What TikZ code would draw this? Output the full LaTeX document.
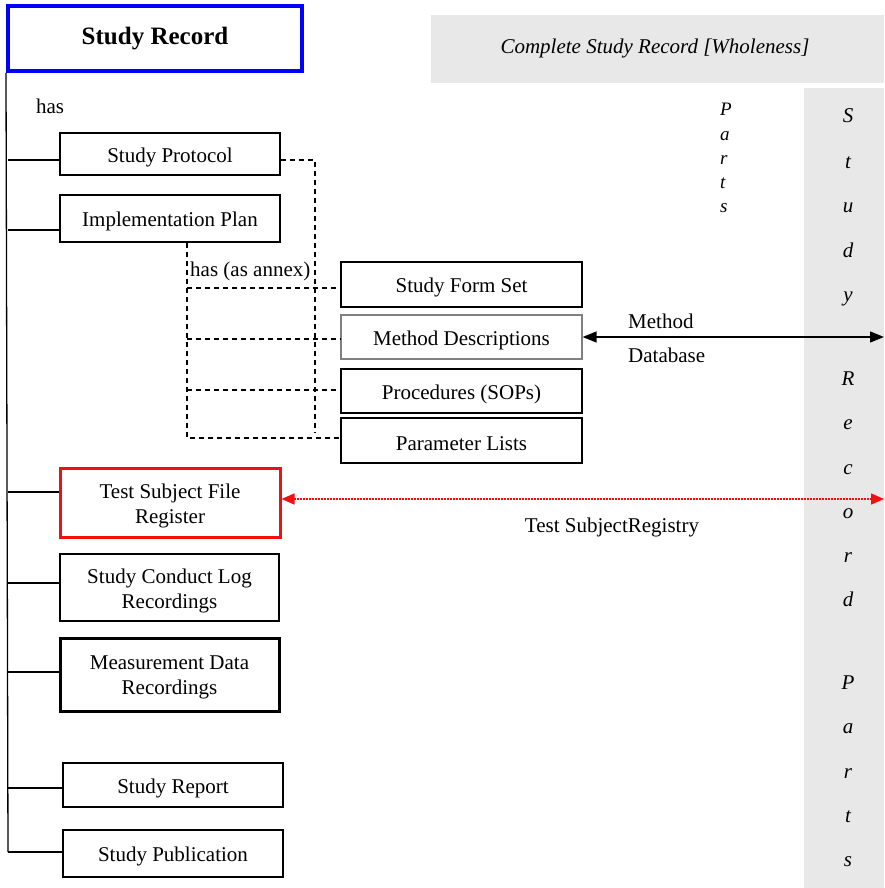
\documentclass[tikz,border=0pt]{standalone}
\usepackage{fontspec}
\setmainfont{Liberation Serif}
\usetikzlibrary{arrows.meta}
\definecolor{panelgrey}{HTML}{E8E8E8}
\definecolor{rulered}{HTML}{F01010}
\begin{document}
\begin{tikzpicture}[x=1pt,y=-1pt,
  txt/.style={font=\fontsize{21}{25}\selectfont, inner sep=0pt},
  boxtext/.style={txt, align=center, yshift=-3pt},
  partbox/.style={draw, line width=1.5pt, inner sep=0pt, minimum width=#1},
  partbox/.default=220pt,
  lnk/.style={line width=1.3pt},
  annex/.style={line width=1.2pt, dash pattern=on 5pt off 4pt},
  vletter/.style={font=\fontsize{21}{25}\selectfont\itshape, inner sep=0pt, anchor=base},
  pletter/.style={font=\fontsize{19}{22}\selectfont\itshape, inner sep=0pt, anchor=base west}]
\useasboundingbox (0,0) rectangle (884,888);

% grey panels
\fill[panelgrey] (431,15) rectangle (884,83);
\fill[panelgrey] (804,88) rectangle (884,888);
\node[font=\fontsize{21}{25}\selectfont\itshape, inner sep=0pt] (whole) at (655,48) {Complete Study Record [Wholeness]};

% vertical caption "Study Record Parts"
\foreach \ch/\yy [count=\i] in {S/123,t/168,u/212,d/257,y/301,R/385,e/429,c/474,o/518,r/562,d/606,P/689,a/733,r/778,t/822,s/866}
  \node[vletter] (vl\i) at (848,\yy) {\ch};
% small "Parts"
\foreach \ch/\yy [count=\i] in {P/116,a/140,r/164,t/188,s/212}
  \node[pletter] (pl\i) at (720,\yy) {\ch};

% root
\node[draw=blue, line width=4pt, minimum width=294pt, minimum height=65pt, inner sep=0pt,
      font=\fontsize{25}{30}\selectfont\bfseries] (sr) at (155,38.5) {Study Record};
\node[txt] (has) at (50,106) {has};

% parts
\node[partbox, minimum height=42pt, label={[boxtext]center:Study Protocol}] (sp) at (170,154) {};
\node[partbox, minimum height=47pt, label={[boxtext]center:Implementation Plan}] (ip) at (170,218.5) {};
\node[partbox=241pt, minimum height=45pt, label={[boxtext]center:Study Form Set}] (sfs) at (461.5,284.5) {};
\node[partbox=241pt, minimum height=44pt, draw=gray, line width=1.2pt, label={[boxtext]center:Method Descriptions}] (md) at (461.5,337) {};
\node[partbox=241pt, minimum height=44pt, label={[boxtext]center:Procedures (SOPs)}] (sop) at (461.5,391) {};
\node[partbox=241pt, minimum height=45pt, label={[boxtext]center:Parameter Lists}] (pl) at (461.5,440.5) {};
\node[partbox, minimum height=69pt, draw=rulered, line width=3pt, label={[boxtext]center:{Test Subject File\\Register}}] (ts) at (170,502.5) {};
\node[partbox=219pt, minimum height=67pt, label={[boxtext]center:{Study Conduct Log\\Recordings}}] (scl) at (169.5,587.5) {};
\node[partbox=219pt, minimum height=73pt, line width=3pt, label={[boxtext]center:{Measurement Data\\Recordings}}] (mdr) at (169.5,674.5) {};
\node[partbox, minimum height=44pt, label={[boxtext]center:Study Report}] (rep) at (173,785) {};
\node[partbox, minimum height=47pt, label={[boxtext]center:Study Publication}] (pub) at (173,853.5) {};

% trunk
\coordinate (tend) at (8,852);
\draw[lnk] (sr.south west) -- (tend);
\foreach \n/\yy in {sp/160,ip/230,ts/492,scl/583,mdr/672,rep/788,pub/852}{
  \coordinate (b-\n) at (8,\yy);
  \draw[lnk] (b-\n) -- (b-\n -| \n.west);
}

% annex relations
\node[txt, anchor=south west] (annexlbl) at (190,281) {has (as annex)};
\coordinate (pe) at (315,160);
\coordinate (pd) at (315,432);
\draw[annex] (sp.east |- pe) -- (pe) -- (pd);
\coordinate (ab) at (187,438);
\draw[annex] (ip.south -| ab) -- (ab) -- (ab -| pl.west);
\foreach \n/\yy in {sfs/288,md/339,sop/390}{
  \coordinate (a-\n) at (187,\yy);
  \draw[annex] (a-\n) -- (a-\n -| \n.west);
}

% method database link
\coordinate (mdb) at (884,337);
\draw[line width=1.3pt, {Triangle[length=14pt,width=11pt]}-{Triangle[length=14pt,width=11pt]}] (md.east) -- (mdb);
\node[txt, anchor=west] (mlbl) at (628,321) {Method};
\node[txt, anchor=west] (dlbl) at (628,355) {Database};

% test subject registry link
\coordinate (tsr) at (884,499);
\draw[rulered, line width=1.5pt, dash pattern=on 1.5pt off 1.5pt,
      {Triangle[length=13pt,width=11pt]}-{Triangle[length=13pt,width=11pt]}] (ts.east |- tsr) -- (tsr);
\node[txt] (tslbl) at (612,527) {Test SubjectRegistry};
\end{tikzpicture}
\end{document}
